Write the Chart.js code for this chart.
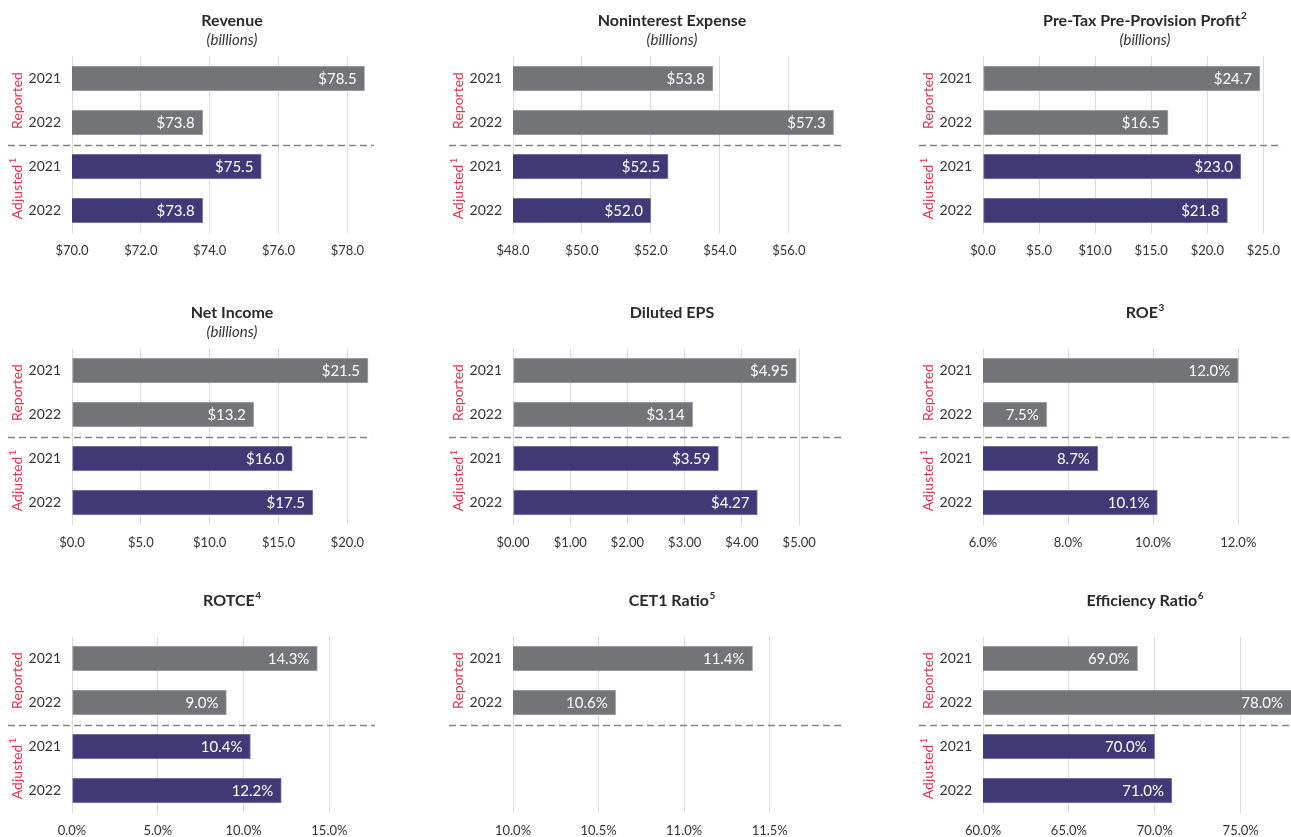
<!DOCTYPE html>
<html>
<head>
<meta charset="utf-8">
<script src="https://cdn.jsdelivr.net/npm/chart.js@4.4.1/dist/chart.umd.min.js"></script>
<style>
  html, body { margin: 0; padding: 0; background: #fff; overflow: hidden; }
  body { width: 1291px; height: 837px; position: relative; }
  canvas { position: absolute; }
</style>
</head>
<body>
<canvas id="c1"></canvas>
<canvas id="c2"></canvas>
<canvas id="c3"></canvas>
<canvas id="c4"></canvas>
<canvas id="c5"></canvas>
<canvas id="c6"></canvas>
<canvas id="c7"></canvas>
<canvas id="c8"></canvas>
<canvas id="c9"></canvas>
<script>
// categories: first two rows are Reported, last two Adjusted
var years = ['2021', '2022', '2021', '2022'];
var yearsReportedOnly = ['2021', '2022', '', ''];
var groupLabels = ['Reported', 'Adjusted'];
var groupSups = ['', '1'];

// values (reported 2021, reported 2022, adjusted 2021, adjusted 2022)
var revenue = [78.5, 73.8, 75.5, 73.8];
var nonintExpense = [53.8, 57.3, 52.5, 52.0];
var pretaxProfit = [24.7, 16.5, 23.0, 21.8];
var netIncome = [21.5, 13.2, 16.0, 17.5];
var dilutedEps = [4.95, 3.14, 3.59, 4.27];
var roe = [12.0, 7.5, 8.7, 10.1];
var rotce = [14.3, 9.0, 10.4, 12.2];
var cet1Ratio = [11.4, 10.6, null, null];
var efficiencyRatio = [69.0, 78.0, 70.0, 71.0];

var grayBar = '#737477';
var purpleBar = '#3f3a76';
var barColors = [grayBar, grayBar, purpleBar, purpleBar];
var barBorders = ['#a9a9ac', '#a9a9ac', '#8a86ad', '#8a86ad'];
var labelRed = '#e0374e';

function usd1(v) { return '$' + Number(v).toFixed(1); }
function usd2(v) { return '$' + Number(v).toFixed(2); }
function pct1(v) { return Number(v).toFixed(1) + '%'; }

Chart.defaults.font.family = 'Lato, "Open Sans", sans-serif';
Chart.defaults.color = '#333';

var panels = [
  { id: 'c1', left: 0,   top: 0,   width: 375, yw: 72, tx: 232, title: 'Revenue', sup: '', sub: '(billions)', data: revenue, cats: years, min: 70, max: 78.77, step: 2, fmt: usd1 },
  { id: 'c2', left: 440, top: 0,   width: 405, yw: 73, tx: 232, title: 'Noninterest Expense', sup: '', sub: '(billions)', data: nonintExpense, cats: years, min: 48, max: 57.63, step: 2, fmt: usd1 },
  { id: 'c3', left: 910, top: 0,   width: 381, yw: 73, tx: 235, title: 'Pre-Tax Pre-Provision Profit', sup: '2', sub: '(billions)', data: pretaxProfit, cats: years, min: 0, max: 26.67, step: 5, fmt: usd1 },
  { id: 'c4', left: 0,   top: 292, width: 375, yw: 72, tx: 232, title: 'Net Income', sup: '', sub: '(billions)', data: netIncome, cats: years, min: 0, max: 21.73, step: 5, fmt: usd1 },
  { id: 'c5', left: 440, top: 292, width: 405, yw: 73, tx: 232, title: 'Diluted EPS', sup: '', sub: '', data: dilutedEps, cats: years, min: 0, max: 5.8, step: 1, fmt: usd2 },
  { id: 'c6', left: 910, top: 292, width: 381, yw: 73, tx: 235, title: 'ROE', sup: '3', sub: '', data: roe, cats: years, min: 6, max: 13.24, step: 2, fmt: pct1 },
  { id: 'c7', left: 0,   top: 580, width: 375, yw: 72, tx: 232, title: 'ROTCE', sup: '4', sub: '', data: rotce, cats: years, min: 0, max: 17.66, step: 5, fmt: pct1 },
  { id: 'c8', left: 440, top: 580, width: 405, yw: 73, tx: 232, title: 'CET1 Ratio', sup: '5', sub: '', data: cet1Ratio, cats: yearsReportedOnly, min: 10, max: 11.94, step: 0.5, fmt: pct1 },
  { id: 'c9', left: 910, top: 580, width: 381, yw: 73, tx: 235, title: 'Efficiency Ratio', sup: '6', sub: '', data: efficiencyRatio, cats: years, min: 60, max: 77.93, step: 5, fmt: pct1 }
];

// titles, group labels, separator and bar value labels
var panelText = {
  id: 'panelText',
  afterDraw: function(chart) {
    var p = chart.$panel;
    var ctx = chart.ctx;
    var area = chart.chartArea;
    var ys = chart.scales.y;
    ctx.save();

    ctx.font = 'bold 16px Lato';
    var w1 = ctx.measureText(p.title).width;
    ctx.font = 'bold 10px Lato';
    var w2 = p.sup ? ctx.measureText(p.sup).width + 0.5 : 0;
    var x0 = p.tx - (w1 + w2) / 2;
    ctx.fillStyle = '#2a2a2a';
    ctx.textAlign = 'left';
    ctx.textBaseline = 'middle';
    ctx.font = 'bold 16px Lato';
    ctx.fillText(p.title, x0, 21);
    if (p.sup) {
      ctx.font = 'bold 10px Lato';
      ctx.fillText(p.sup, x0 + w1 + 0.5, 16);
    }
    if (p.sub) {
      ctx.font = 'italic 15px Lato';
      ctx.fillStyle = '#333';
      ctx.textAlign = 'center';
      ctx.fillText(p.sub, p.tx, 40);
    }

    var ySep = Math.round(ys.getPixelForValue(1.5)) + 0.5;
    ctx.strokeStyle = '#858585';
    ctx.lineWidth = 1.3;
    ctx.setLineDash([7, 4]);
    ctx.beginPath();
    ctx.moveTo(area.left - 64, ySep);
    ctx.lineTo(area.right, ySep);
    ctx.stroke();
    ctx.setLineDash([]);

    ctx.fillStyle = labelRed;
    ctx.textBaseline = 'middle';
    for (var g = 0; g < 2; g++) {
      if (g === 1 && p.data[2] === null) continue;
      var yc = (ys.getPixelForValue(g * 2) + ys.getPixelForValue(g * 2 + 1)) / 2;
      ctx.font = '14px Lato';
      var lw = ctx.measureText(groupLabels[g]).width;
      ctx.font = '10px Lato';
      var sw = groupSups[g] ? ctx.measureText(groupSups[g]).width + 1 : 0;
      ctx.save();
      ctx.translate(area.left - 55, yc);
      ctx.rotate(-Math.PI / 2);
      ctx.textAlign = 'left';
      ctx.font = '14px Lato';
      ctx.fillText(groupLabels[g], -(lw + sw) / 2, 0);
      if (groupSups[g]) {
        ctx.font = '10px Lato';
        ctx.fillText(groupSups[g], -(lw + sw) / 2 + lw + 1, -4);
      }
      ctx.restore();
    }

    var meta = chart.getDatasetMeta(0);
    ctx.fillStyle = '#fff';
    ctx.font = '15px Lato';
    ctx.textAlign = 'right';
    for (var i = 0; i < p.data.length; i++) {
      if (p.data[i] === null) continue;
      var bar = meta.data[i];
      var xEnd = Math.min(bar.x, area.right);
      ctx.fillText(p.fmt(p.data[i]), xEnd - 8, bar.y + 1);
    }
    ctx.restore();
  }
};

panels.forEach(function(p) {
  var cv = document.getElementById(p.id);
  cv.width = p.width;
  cv.height = 260;
  cv.style.left = p.left + 'px';
  cv.style.top = p.top + 'px';

  new Chart(cv, {
    type: 'bar',
    data: {
      labels: p.cats,
      datasets: [{
        data: p.data,
        backgroundColor: barColors,
        borderColor: barBorders,
        borderWidth: 1,
        borderSkipped: false,
        barThickness: 25
      }]
    },
    options: {
      indexAxis: 'y',
      responsive: false,
      animation: false,
      devicePixelRatio: 1,
      layout: { padding: { top: 56.5, left: 0, right: 0, bottom: 0 } },
      plugins: {
        legend: { display: false },
        tooltip: { enabled: false },
        title: { display: false }
      },
      scales: {
        x: {
          type: 'linear',
          min: p.min,
          max: p.max,
          grid: { color: '#dcdcdc', lineWidth: 1, drawTicks: false },
          border: { display: false },
          ticks: {
            stepSize: p.step,
            includeBounds: false,
            autoSkip: false,
            maxRotation: 0,
            padding: 11,
            color: '#333',
            font: { size: 13 },
            callback: function(v) { return p.fmt(v); }
          },
          afterFit: function(s) { s.height = 27.5; }
        },
        y: {
          grid: { display: false, drawTicks: false },
          border: { display: false },
          ticks: { padding: 11, color: '#333', font: { size: 14 } },
          afterFit: function(s) { s.width = p.yw; }
        }
      }
    },
    plugins: [{ id: 'panelRef', beforeInit: function(c) { c.$panel = p; } }, panelText]
  });
});
</script>
</body>
</html>
